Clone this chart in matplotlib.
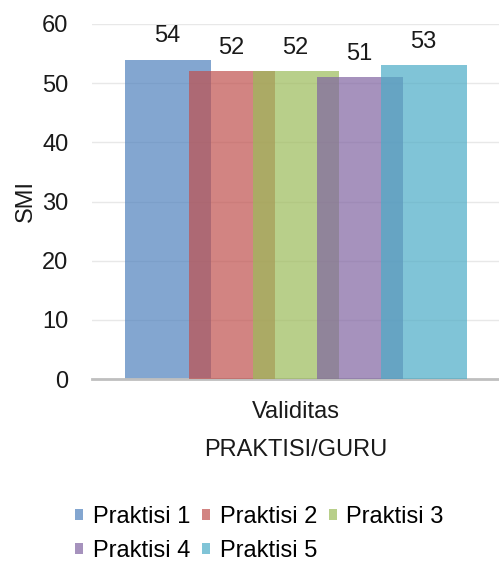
import matplotlib.pyplot as plt

plt.rcParams['font.family'] = ['Liberation Sans', 'DejaVu Sans']

# data
category = ["Validitas"]
series = ["Praktisi 1", "Praktisi 2", "Praktisi 3", "Praktisi 4", "Praktisi 5"]
values = [54, 52, 52, 51, 53]
colors = ["#4F81BD", "#C0504D", "#9BBB59", "#8064A2", "#4BACC6"]

fig = plt.figure(figsize=(4.99, 5.65), dpi=100)
ax = fig.add_axes([92 / 499, 186 / 565, 407 / 499, 355 / 565])

width = 86 / 407
step = 64 / 407
bars = []
for i, (name, v, c) in enumerate(zip(series, values, colors)):
    x = (i - 2) * step
    b = ax.bar(x, v, width=width, color=c, alpha=0.7, label=name, zorder=2 + i)
    bars.append(b)
    ax.annotate(str(v), (x, v), xytext=(0, 12.5), textcoords="offset points",
                ha="center", va="baseline", fontsize=17, color="#1a1a1a")

ax.set_xlim(-0.5, 0.5)
ax.set_ylim(0, 60)
ax.set_yticks(range(0, 61, 10))
ax.set_xticks([0])
ax.set_xticklabels(category)
ax.tick_params(axis="y", length=0, pad=17, labelsize=17, labelcolor="#1a1a1a")
ax.tick_params(axis="x", length=0, pad=16, labelsize=17, labelcolor="#1a1a1a")
ax.grid(axis="y", color="#e8e8e8", linewidth=1, zorder=0)
ax.set_axisbelow(True)
for s in ["top", "right", "left"]:
    ax.spines[s].set_visible(False)
ax.spines["bottom"].set_color("#bfbfbf")
ax.spines["bottom"].set_linewidth(2)

ax.set_ylabel("SMI", fontsize=17, color="#1a1a1a", labelpad=4)
ax.set_xlabel("PRAKTISI/GURU", fontsize=17, color="#1a1a1a", labelpad=11)

# row-wise legend order for 3 columns
order = [0, 3, 1, 4, 2]
fig.legend([bars[k] for k in order], [series[k] for k in order],
           loc="upper left", bbox_to_anchor=(75 / 499, 1 - 506 / 565), ncol=3,
           frameon=False, fontsize=17, handlelength=0.35, handleheight=0.35,
           handletextpad=0.4, columnspacing=0.5, labelspacing=0.5,
           borderaxespad=0, borderpad=0)

fig.savefig("out.png", dpi=100)
